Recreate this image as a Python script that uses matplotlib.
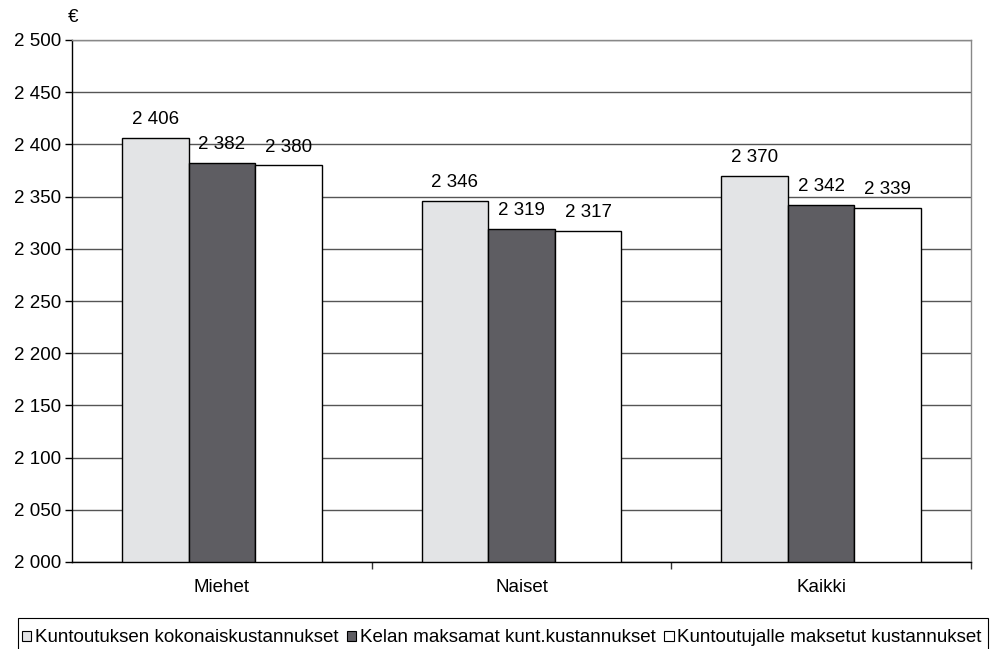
import matplotlib
matplotlib.use("Agg")
import matplotlib.pyplot as plt
import numpy as np
from matplotlib.patches import Patch, Rectangle
from matplotlib.ticker import FuncFormatter

plt.rcParams['font.family'] = ['Liberation Sans', 'DejaVu Sans']

categories = ["Miehet", "Naiset", "Kaikki"]
series_names = ["Kuntoutuksen kokonaiskustannukset",
                "Kelan maksamat kunt.kustannukset",
                "Kuntoutujalle maksetut kustannukset"]
total_costs = [2406, 2346, 2370]
kela_costs = [2382, 2319, 2342]
client_costs = [2380, 2317, 2339]
yticks = list(range(2000, 2501, 50))

colors = ["#E3E4E6", "#5E5D62", "#FFFFFF"]
series = [total_costs, kela_costs, client_costs]
FS = 13.5

fig = plt.figure(figsize=(9.91, 6.49), dpi=100)
ax = fig.add_axes([72/991, 1 - 562/649, (971-72)/991, (562-40)/649])

x = np.arange(len(categories))
w = 2/9
for i, (vals, c) in enumerate(zip(series, colors)):
    pos = x + (i - 1) * w
    ax.bar(pos, [v - 2000 for v in vals], bottom=2000, width=w, color=c,
           edgecolor="black", linewidth=1.0, zorder=3)
    for p, v in zip(pos, vals):
        ax.annotate(f"{v:,}".replace(",", " "), (p, v), xytext=(0, 7),
                    textcoords="offset points", ha="center", va="bottom",
                    fontsize=FS, zorder=4)

ax.set_ylim(2000, 2500)
ax.set_xlim(-0.5, 2.5)
ax.set_yticks(yticks)
ax.yaxis.set_major_formatter(FuncFormatter(lambda v, p: f"{int(v):,}".replace(",", " ")))
ax.grid(axis="y", color="#555555", linewidth=1.0, zorder=0)
ax.set_xticks(x)
ax.set_xticklabels(categories)
ax.set_xticks([0.5, 1.5, 2.5], minor=True)
ax.tick_params(axis="x", which="major", length=0, pad=12, labelsize=FS)
ax.tick_params(axis="x", which="minor", length=5, width=1, color="#333333")
ax.tick_params(axis="y", length=5, width=1, labelsize=FS, pad=3)
for s in ["left", "bottom"]:
    ax.spines[s].set_color("black")
    ax.spines[s].set_linewidth(1.0)
for s in ["top", "right"]:
    ax.spines[s].set_color("#888888")
    ax.spines[s].set_linewidth(1.0)
ax.set_axisbelow(True)

fig.text(68/991, 1 - 18/649, "€", fontsize=FS, ha="left", va="center")

# legend frame (extends past the bottom edge as in the reference)
fig.patches.append(Rectangle((18/991, -10/649), (988-18)/991, (649-618+10)/649,
                             transform=fig.transFigure, fill=False,
                             edgecolor="black", linewidth=0.8))

handles = [Patch(facecolor=c, edgecolor="black", linewidth=0.8) for c in colors]
leg = fig.legend(handles, series_names, loc="center left",
                 bbox_to_anchor=(18/991, 1 - 638/649),
                 ncol=3, fontsize=FS, frameon=False,
                 handlelength=0.5, handleheight=0.5, handletextpad=0.2,
                 columnspacing=0.45, borderaxespad=0, borderpad=0.2)

fig.savefig("out.png", dpi=100)
